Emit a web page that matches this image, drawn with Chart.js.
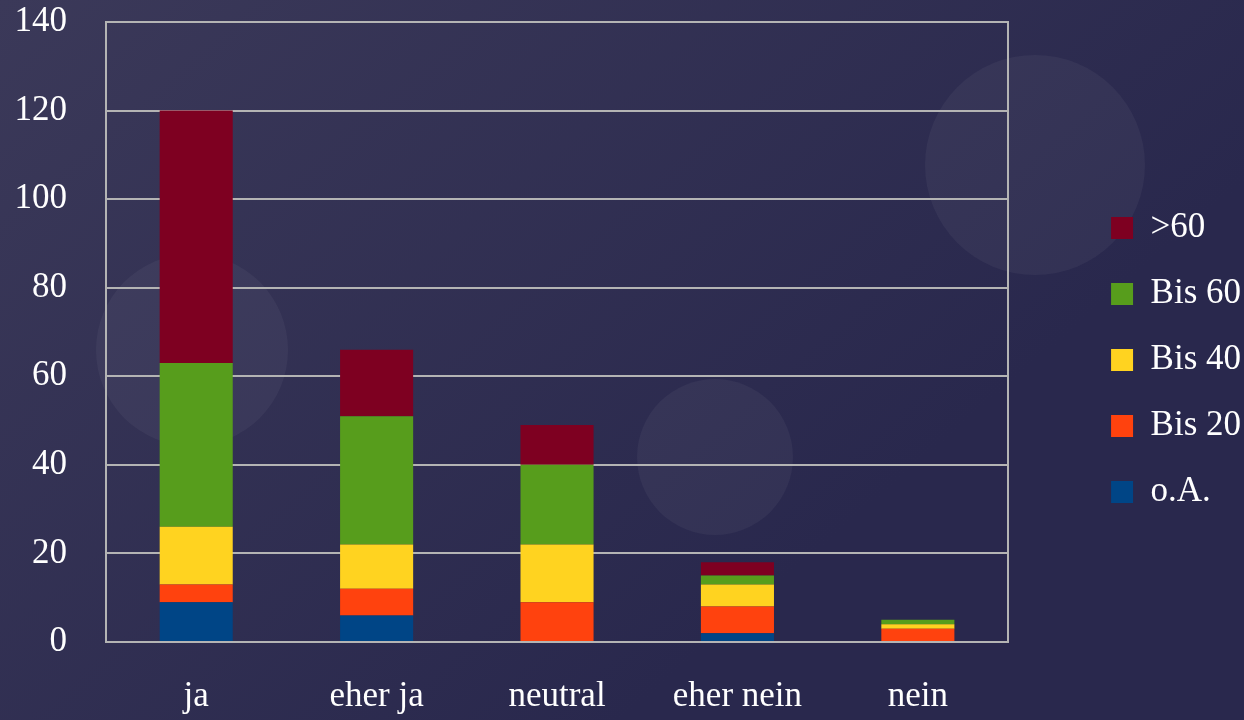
<!DOCTYPE html>
<html>
<head>
<meta charset="utf-8">
<script src="https://cdn.jsdelivr.net/npm/chart.js@4/dist/chart.umd.min.js"></script>
<style>
html,body{margin:0;padding:0;background:#302e50;}
#wrap{width:1244px;height:720px;position:relative;}
</style>
</head>
<body>
<div id="wrap"><canvas id="c" width="1244" height="720"></canvas></div>
<script>
const categories = ['ja', 'eher ja', 'neutral', 'eher nein', 'nein'];
const seriesNames = ['o.A.', 'Bis 20', 'Bis 40', 'Bis 60', '>60'];
const oA     = [9, 6, 0, 2, 0];
const bis20  = [4, 6, 9, 6, 3];
const bis40  = [13, 10, 13, 5, 1];
const bis60  = [37, 29, 18, 2, 1];
const over60 = [57, 15, 9, 3, 0];
const yTicks = [0, 20, 40, 60, 80, 100, 120, 140];
const colors = ['#004586', '#ff420e', '#ffd320', '#579d1c', '#7e0021'];

const values = [oA, bis20, bis40, bis60, over60];
const FONT = "'Liberation Serif', 'Times New Roman', serif";

const bgPlugin = {
  id: 'bg',
  beforeDraw(chart) {
    const ctx = chart.ctx;
    const w = chart.width, h = chart.height;
    ctx.save();
    const g = ctx.createLinearGradient(0, 0, w * 0.5, h);
    g.addColorStop(0, '#3b3959');
    g.addColorStop(1, '#29284d');
    ctx.fillStyle = g;
    ctx.fillRect(0, 0, w, h);
    const circles = [[192, 350, 96], [715, 457, 78], [1035, 165, 110]];
    ctx.fillStyle = 'rgba(255,255,255,0.045)';
    for (const [x, y, r] of circles) {
      ctx.beginPath();
      ctx.arc(x, y, r, 0, Math.PI * 2);
      ctx.fill();
    }
    ctx.restore();
  }
};

new Chart(document.getElementById('c'), {
  type: 'bar',
  data: {
    labels: categories,
    datasets: seriesNames.map((name, i) => ({
      label: name,
      data: values[i],
      backgroundColor: colors[i],
      borderWidth: 0,
      barPercentage: 0.405,
      categoryPercentage: 1.0
    }))
  },
  plugins: [bgPlugin],
  options: {
    responsive: false,
    animation: false,
    layout: { padding: { top: 0, right: -7, left: 0, bottom: 0 } },
    plugins: {
      tooltip: { enabled: false },
      legend: {
        position: 'right',
        reverse: true,
        labels: {
          color: '#ffffff',
          font: { family: FONT, size: 35 },
          boxWidth: 22,
          boxHeight: 22,
          padding: 31
        }
      }
    },
    scales: {
      x: {
        stacked: true,
        grid: { display: false },
        border: { display: false },
        ticks: { color: '#ffffff', font: { family: FONT, size: 35 }, padding: 26, maxRotation: 0 },
        afterFit(s) { s.height = 78; }
      },
      y: {
        stacked: true,
        min: 0,
        max: 140,
        afterBuildTicks(s) { s.ticks = yTicks.map(v => ({ value: v })); },
        grid: { color: '#b4b4b4', lineWidth: 2, drawTicks: false },
        border: { display: true, color: '#b4b4b4', width: 2 },
        ticks: { color: '#ffffff', font: { family: FONT, size: 35 }, padding: 39 },
        afterFit(s) { s.width = 106; s.paddingTop = 22; s.paddingBottom = 0; }
      },
      y2: {
        position: 'right',
        min: 0,
        max: 140,
        grid: { display: false, drawTicks: false },
        border: { display: true, color: '#b4b4b4', width: 2 },
        ticks: { display: false },
        afterFit(s) { s.width = 72; s.paddingTop = 22; s.paddingBottom = 0; }
      }
    }
  }
});
</script>
</body>
</html>
